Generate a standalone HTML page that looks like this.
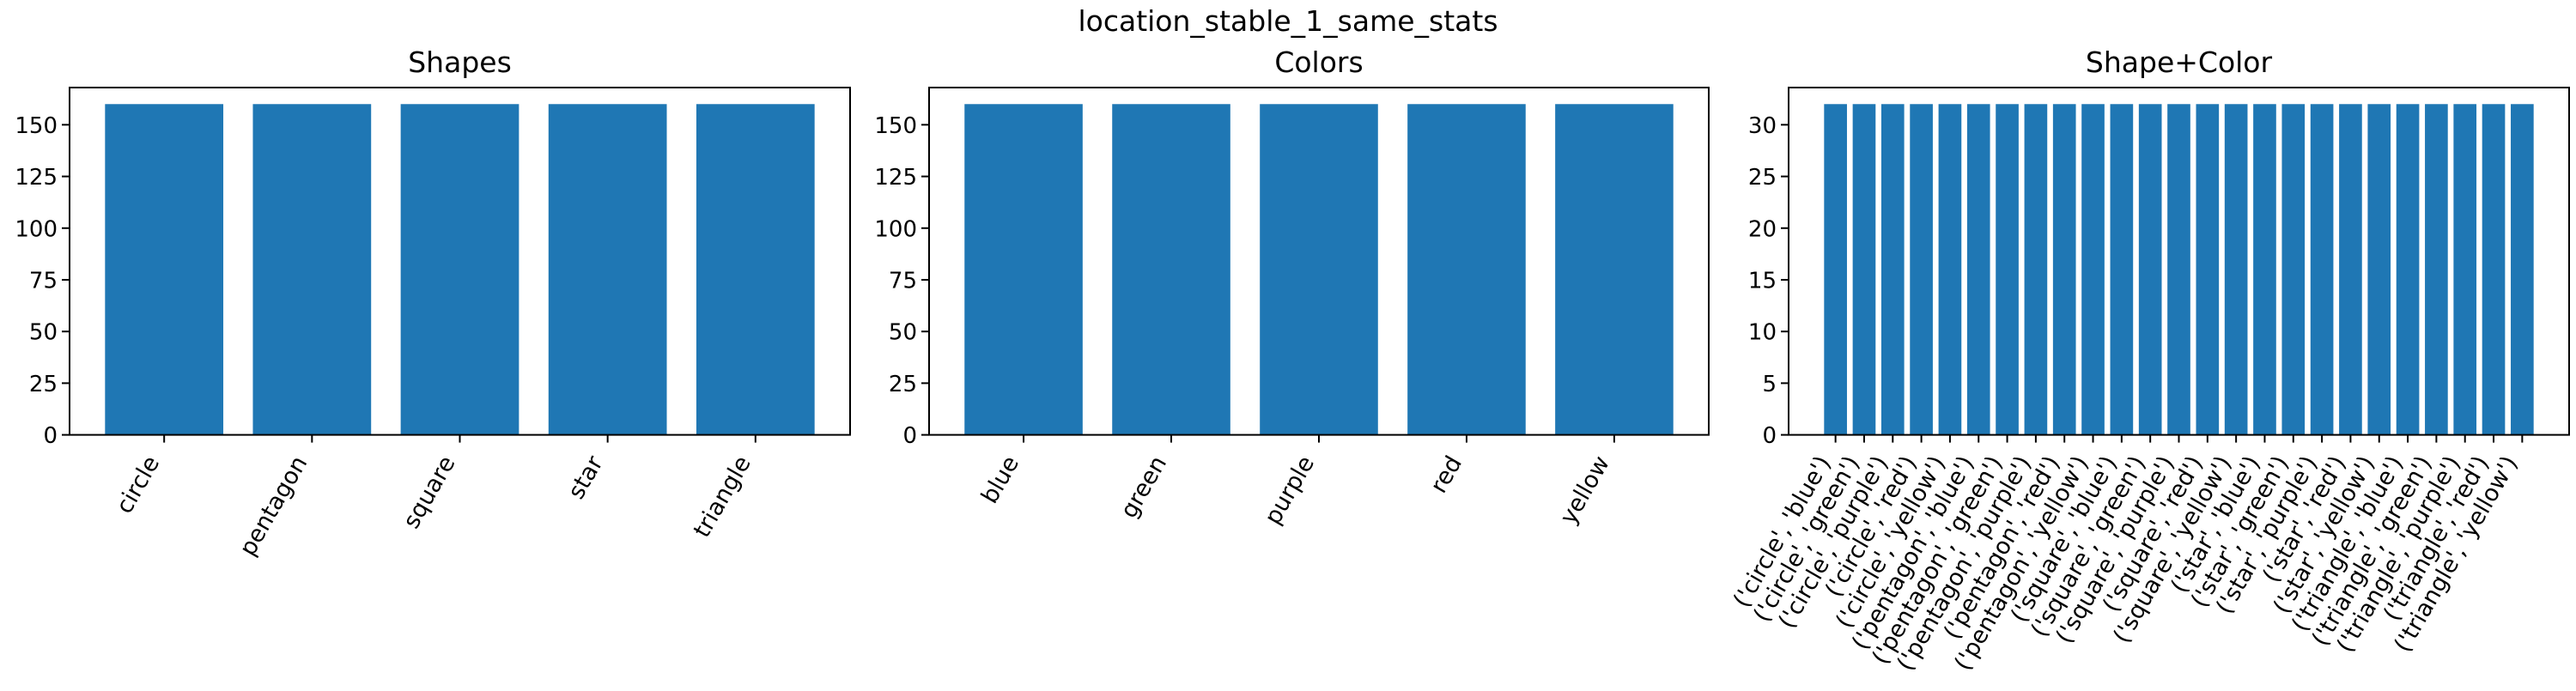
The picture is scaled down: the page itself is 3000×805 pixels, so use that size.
<!DOCTYPE html>
<html><head><meta charset="utf-8"><style>
html,body{margin:0;padding:0;background:#fff;}
svg text{font-family:"DejaVu Sans","Liberation Sans",sans-serif;fill:#000;}
</style></head><body>
<svg id="fig" width="3000" height="800" xmlns="http://www.w3.org/2000/svg">
<rect width="3000" height="800" fill="#fff"/>
<text x="1500" y="36" font-size="33" text-anchor="middle">location_stable_1_same_stats</text>
</svg>
<script>
const shapeCats = ['circle','pentagon','square','star','triangle'];
const shapeVals = [160,160,160,160,160];
const colorCats = ['blue','green','purple','red','yellow'];
const colorVals = [160,160,160,160,160];
const comboCats = ["('circle', 'blue')","('circle', 'green')","('circle', 'purple')","('circle', 'red')","('circle', 'yellow')","('pentagon', 'blue')","('pentagon', 'green')","('pentagon', 'purple')","('pentagon', 'red')","('pentagon', 'yellow')","('square', 'blue')","('square', 'green')","('square', 'purple')","('square', 'red')","('square', 'yellow')","('star', 'blue')","('star', 'green')","('star', 'purple')","('star', 'red')","('star', 'yellow')","('triangle', 'blue')","('triangle', 'green')","('triangle', 'purple')","('triangle', 'red')","('triangle', 'yellow')"];
const comboVals = [32,32,32,32,32,32,32,32,32,32,32,32,32,32,32,32,32,32,32,32,32,32,32,32,32];
const countTicks = [0,25,50,75,100,125,150];
const comboTicks = [0,5,10,15,20,25,30];

const NS='http://www.w3.org/2000/svg';
const svg=document.getElementById('fig');
function mk(tag,attrs,parent){const e=document.createElementNS(NS,tag);for(const k in attrs)e.setAttribute(k,attrs[k]);(parent||svg).appendChild(e);return e;}

function panel(key,title,left,right,cats,vals,ticks,ymax){
  const top=102,bottom=506.6;
  const g=mk('g',{});
  
  
  const n=cats.length;
  const xmin=-0.4-0.05*(n-0.2), xmax=n-1+0.4+0.05*(n-0.2);
  const xs=v=>left+(v-xmin)/(xmax-xmin)*(right-left);
  const ys=v=>bottom-v/ymax*(bottom-top);
  const t=mk('text',{x:(left+right)/2,y:84,'font-size':33,'text-anchor':'middle'},g);
  t.textContent=title;
  
  
  vals.forEach((v,i)=>{
    const x0=xs(i-0.4),x1=xs(i+0.4);
    const r=mk('rect',{x:x0,y:ys(v),width:x1-x0,height:ys(0)-ys(v),fill:'#1f77b4'},g);
    
    
  });
  ticks.forEach(tv=>{
    const y=ys(tv);
    mk('line',{x1:left-9,x2:left,y1:y,y2:y,stroke:'#000','stroke-width':2},g);
    const l=mk('text',{x:left-14,y:y+9.5,'font-size':26,'text-anchor':'end'},g);
    l.textContent=tv;
    
    
  });
  cats.forEach((c,i)=>{
    const x=xs(i);
    mk('line',{x1:x,x2:x,y1:bottom,y2:bottom+9,stroke:'#000','stroke-width':2},g);
    const l=mk('text',{transform:'translate('+(x-5)+',538) rotate(-60)','font-size':27,'text-anchor':'end'},g);
    l.textContent=c;
    
    
  });
  const f=mk('rect',{x:left,y:top,width:right-left,height:bottom-top,fill:'none',stroke:'#000','stroke-width':2},g);
  
  
}
panel('shapes','Shapes',81,990,shapeCats,shapeVals,countTicks,168);
panel('colors','Colors',1082,1990,colorCats,colorVals,countTicks,168);
panel('shape-color','Shape+Color',2083,2992,comboCats,comboVals,comboTicks,33.6);
</script>
</body></html>
